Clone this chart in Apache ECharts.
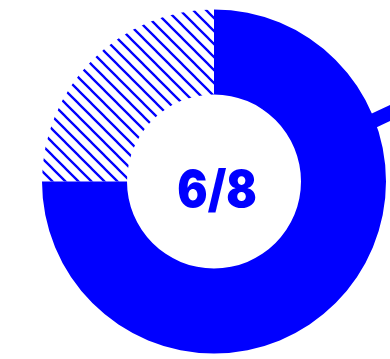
<!DOCTYPE html>
<html><head><meta charset="utf-8">
<script src="https://cdn.jsdelivr.net/npm/echarts@6/dist/echarts.min.js"></script>
<style>html,body{margin:0;padding:0;background:#fff}#c{width:390px;height:359px}</style>
</head><body><div id="c"></div>
<script>
const categories = ['Done', 'Remaining'];
const values = [6, 2];
const centerLabel = '6/8';

const BLUE = '#0000ff';
const cx = 214, cy = 181.5, rIn = 87, rOut = 172;

// hatch pattern (diagonal "\" lines)
const S = 13;
const tile = document.createElement('canvas');
tile.width = S; tile.height = S;
const g = tile.getContext('2d');
g.strokeStyle = BLUE; g.lineWidth = 2.3;
g.beginPath();
for (let k = -2; k <= 2; k++) {
  const off = 1 + k * S;
  g.moveTo(off - 3, -3); g.lineTo(off + S + 3, S + 3);
}
g.stroke();

const chart = echarts.init(document.getElementById('c'), null, {renderer: 'canvas'});
const a = 25 * Math.PI / 180, px = 390, py = 113;
chart.setOption({
  animation: false,
  backgroundColor: '#fff',
  graphic: [{
    type: 'line', z: 0,
    shape: {x1: px - 25 * Math.cos(a), y1: py + 25 * Math.sin(a), x2: px + 15 * Math.cos(a), y2: py - 15 * Math.sin(a)},
    style: {stroke: BLUE, lineWidth: 14.5}
  }, {
    type: 'text', z: 10, x: 217, y: 192, scaleX: 0.9, scaleY: 1.02,
    style: {x: 0, y: 0, text: centerLabel, fill: BLUE, font: '900 50px Inter, "Lato Black", Lato', align: 'center', verticalAlign: 'middle'}
  }],
  series: [{
    type: 'pie',
    z: 2,
    center: [cx, cy],
    radius: [rIn, rOut],
    startAngle: 90,
    clockwise: true,
    label: {show: false},
    labelLine: {show: false},
    silent: true,
    data: categories.map((n, i) => ({
      name: n, value: values[i],
      itemStyle: i === 0 ? {color: BLUE} : {color: {image: tile, repeat: 'repeat'}}
    }))
  }]
});
</script></body></html>
